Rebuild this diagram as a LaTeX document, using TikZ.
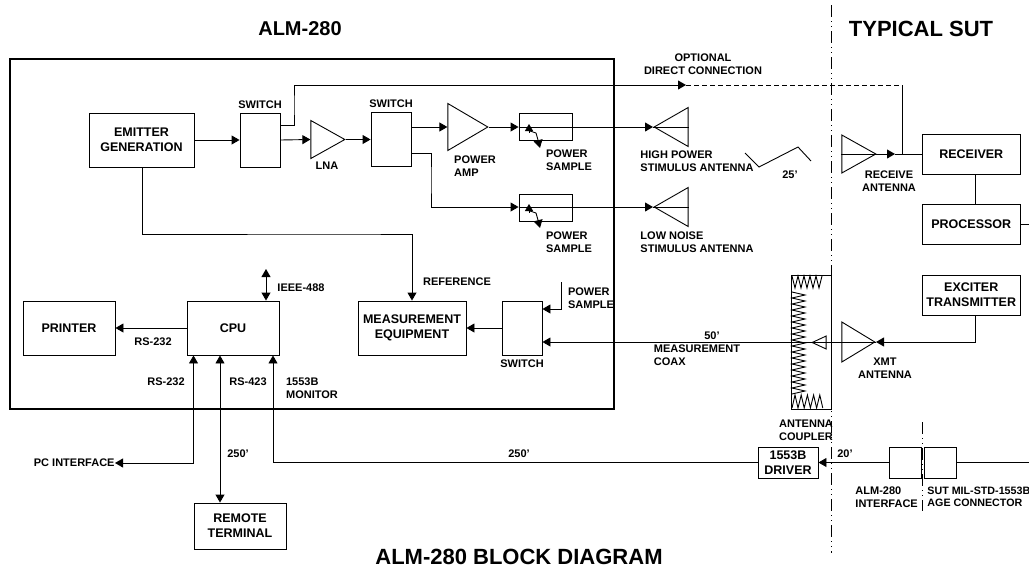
\documentclass[tikz,border=0pt]{standalone}
\usepackage{fontspec}
\setmainfont{Liberation Sans}
\usepackage{tikz}
\usetikzlibrary{positioning,arrows.meta,shapes.geometric}

\begin{document}
\begin{tikzpicture}[
    x=1pt,
    y=-1pt,
    line width=0.9pt,
    >={Triangle[length=8pt,width=9pt]},
    block/.style = {
      shape=rectangle,
      draw,
      inner sep=0pt,
      align=center,
      font=\fontsize{12.5}{15}\selectfont\bfseries
    },
    tag/.style = {
      inner sep=0pt,
      align=left,
      font=\fontsize{11}{12.6}\selectfont\bfseries
    },
    ctag/.style = {tag, align=center},
    headline/.style = {
      inner sep=0pt,
      font=\fontsize{22}{24}\selectfont\bfseries
    },
    wedge/.style = {
      shape=isosceles triangle,
      isosceles triangle stretches,
      draw,
      inner sep=0pt,
      anchor=apex
    },
    wedgeleft/.style = {wedge, shape border rotate=180},
    boundary/.style = {
      line width=0.8pt,
      dash pattern=on 12pt off 4pt on 1pt off 4pt on 1pt off 4pt
    }
  ]
    \useasboundingbox (0,0) rectangle (1029,568);

    % Headings
    \node[headline, font=\fontsize{20}{24}\selectfont\bfseries] (almhead) at (300,29) {ALM-280};
    \node[headline] (suthead) at (921,29) {TYPICAL SUT};
    \node[headline] (caption) at (519,557) {ALM-280 BLOCK DIAGRAM};

    % Boundaries
    \draw[line width=2pt] (10,59) rectangle (614,408.5);
    \coordinate (bndtop) at (831,5);
    \coordinate (bndbot) at (831,553);
    \draw[boundary] (bndtop) -- (bndbot);
    \coordinate (ifctop) at (922,422);
    \coordinate (ifcbot) at (922,511);
    \draw[boundary] (ifctop) -- (ifcbot);

    % Stimulus chain
    \node[block, minimum width=105pt, minimum height=54pt] (emitter) at (141.5,140) {EMITTER\\GENERATION};
    \node[block, minimum width=40pt, minimum height=54pt] (switcha) at (260,140) {};
    \node[wedge, minimum height=34pt, minimum width=38pt] (lna) at (346,139.5) {};
    \node[block, minimum width=40pt, minimum height=54pt] (switchb) at (391,139) {};
    \node[wedge, minimum height=40pt, minimum width=47pt] (amp) at (489,127) {};
    \node[block, minimum width=53pt, minimum height=27pt] (samplehi) at (545.5,126.5) {};
    \node[block, minimum width=53pt, minimum height=27pt] (samplelo) at (545.5,207.5) {};
    \node[wedgeleft, minimum height=34pt, minimum width=39pt] (anthi) at (653,127) {};
    \node[wedgeleft, minimum height=34pt, minimum width=39pt] (antlo) at (653,207) {};

    \node[ctag, above=3pt of switcha] (switchatag) {SWITCH};
    \node[ctag, above=3pt of switchb] (switchbtag) {SWITCH};
    \node[ctag] (lnatag) at (327,166) {LNA};
    \node[tag] (amptag) at (475,166) {POWER\\AMP};
    \node[tag] (samplehitag) at (569,160) {POWER\\SAMPLE};
    \node[tag] (samplelotag) at (569,242) {POWER\\SAMPLE};
    \node[tag] (anthitag) at (697,161) {HIGH POWER\\STIMULUS ANTENNA};
    \node[tag] (antlotag) at (697,242) {LOW NOISE\\STIMULUS ANTENNA};
    \node[ctag] (directtag) at (703,64) {OPTIONAL\\DIRECT CONNECTION};

    \draw[->] (emitter.east) -- (switcha.west);
    \draw[->] (switcha.east) -- (lna.lower side);
    \draw[->] (lna.apex) -- (switchb.west |- lna.apex);
    \draw[->] (switchb.east |- amp.apex) -- (amp.lower side);
    \draw[->] (amp.apex) -- (samplehi.west |- amp.apex);
    \draw[->] (samplehi.west |- amp.apex) -- (anthi.apex);
    \draw (anthi.apex) -- (anthi.lower side);
    \draw[->] (switchb.east |- 0,153.5) -| (431,180) |- (samplelo.west |- antlo.apex);
    \draw[->] (samplelo.west |- antlo.apex) -- (antlo.apex);
    \draw (antlo.apex) -- (antlo.lower side);

    % Sampled outputs
    \foreach \sample/\ya in {samplehi/0,samplelo/80} {
      \draw[->, >={Triangle[length=7pt,width=8pt]}] (529,133+\ya) -- (529,124+\ya);
      \draw[->] (527,130+\ya) -- (536,133+\ya) -- (538,140+\ya) -- (540,148+\ya);
    }

    % Direct connection and SUT receive side
    \node[block, minimum width=98.5pt, minimum height=40pt] (receiver) at (971.25,154) {RECEIVER};
    \node[block, minimum width=98.5pt, minimum height=40.5pt] (processor) at (971.25,224.5) {PROCESSOR};
    \node[block, minimum width=98.5pt, minimum height=40pt] (exciter) at (971.25,295) {EXCITER\\TRANSMITTER};
    \node[wedge, minimum height=34pt, minimum width=38pt] (antrx) at (877,154) {};
    \node[wedge, minimum height=33pt, minimum width=40pt] (anttx) at (876,342) {};
    \node[ctag] (antrxtag) at (889,181) {RECEIVE\\ANTENNA};
    \node[ctag] (anttxtag) at (885,368) {XMT\\ANTENNA};
    \coordinate (directend) at (686,85);
    \coordinate (directcorner) at (902.5,85);
    \coordinate (procout) at (1029,224.5);

    \draw[->] (switcha.east |- 0,125.5) -| (294,105) |- (directend);
    \draw[dashed, dash pattern=on 5pt off 3pt] (directend) -- (directcorner);
    \draw (directcorner) -- (directcorner |- antrx.apex);
    \draw[->] (antrx.apex) -- (895,154);
    \draw (895,154) -- (receiver.west);
    \draw (antrx.apex) -- (antrx.lower side);
    \draw (receiver.south -| 975,0) -- (processor.north -| 975,0);
    \draw (processor.east) -- (procout);

    % Break in the cable
    \draw (745,153) -- (759,167) -- (798,147) -- (811,161);
    \node[ctag] (breaktag) at (790,175) {25'};

    % Measurement path
    \node[block, minimum width=108pt, minimum height=54pt] (measure) at (412,328) {MEASUREMENT\\EQUIPMENT};
    \node[block, minimum width=40pt, minimum height=54pt] (switchc) at (522,328) {};
    \coordinate (powerin) at (561,282);
    \node[ctag, below=4pt of switchc] (switchctag) {SWITCH};
    \node[tag] (reftag) at (457,282) {REFERENCE};
    \node[tag] (powertag) at (591,298.5) {POWER\\SAMPLE};
    \node[tag] (coaxtag) at (697,355.5) {MEASUREMENT\\COAX};
    \node[ctag] (coaxlen) at (712,336) {50'};
    \node[ctag] (couplertag) at (806,430) {ANTENNA\\COUPLER};

    \draw[->] (emitter.south -| 142,0) |- (350,234) -| (measure.north);
    \draw[->] (switchc.west) -- (measure.east);
    \draw[->] (powerin) |- (switchc.east |- 0,309);
    \draw[->] (anttx.lower side) -- (switchc.east |- anttx.apex);
    \draw (anttx.apex) -- (anttx.lower side);
    \draw[->] (exciter.south -| 975,0) |- (anttx.apex);

    % Antenna coupler
    \node[draw, minimum width=40pt, minimum height=134pt, inner sep=0pt] (coupler) at (811,342) {};
    \node[wedgeleft, minimum height=14pt, minimum width=13pt] (couplertip) at (811,342.5) {};
    \draw (792,276) \foreach \i in {0,...,4} { -- (795+6*\i,288) -- (798+6*\i,276) };
    \draw (792,292) \foreach \i in {0,...,16} { -- (805,295+6*\i) -- (792,298+6*\i) };
    \draw (792,408) \foreach \i in {0,...,4} { -- (795+6.2*\i,395) -- (798+6.2*\i,408) };

    % Control side
    \node[block, minimum width=92pt, minimum height=54pt] (printer) at (69,328) {PRINTER};
    \node[block, minimum width=92pt, minimum height=54pt] (cpu) at (233,328) {CPU};
    \node[block, minimum width=92pt, minimum height=46pt] (remote) at (240,526) {REMOTE\\TERMINAL};
    \coordinate (ieeetop) at (266,269);
    \node[tag] (ieeetag) at (301,288) {IEEE-488};
    \node[tag] (printtag) at (153,342) {RS-232};
    \node[tag] (pctag) at (166,382) {RS-232};
    \node[tag] (remotetag) at (248,382) {RS-423};
    \node[tag] (monitortag) at (312,388.5) {1553B\\MONITOR};
    \node[tag, anchor=east] (pcend) at (115,463) {PC INTERFACE};
    \node[ctag] (remotelen) at (238,454) {250'};
    \node[ctag] (driverlen) at (519,454) {250'};

    \draw[->] (cpu.west) -- (printer.east);
    \draw[<->] (ieeetop) -- (ieeetop |- cpu.north);
    \draw[<->] (pcend.east) -| (cpu.south -| 193.5,0);
    \draw[<->] (cpu.south -| 220,0) -- (remote.north -| 220,0);

    % Bus side
    \node[block, minimum width=60pt, minimum height=31pt] (driver) at (788,462.5) {1553B\\DRIVER};
    \node[block, minimum width=32pt, minimum height=31pt] (almport) at (905,462.5) {};
    \node[block, minimum width=32pt, minimum height=31pt] (sutport) at (940,462.5) {};
    \coordinate (busend) at (1029,462.5);
    \node[ctag] (buslen) at (845,454) {20'};
    \node[tag, anchor=west] (almporttag) at (855,497) {ALM-280\\INTERFACE};
    \node[tag, anchor=west, font=\fontsize{10.7}{12.6}\selectfont\bfseries] (sutporttag) at (927,497) {SUT MIL-STD-1553B\\AGE CONNECTOR};

    \draw[->] (driver.west) -| (cpu.south -| 273,0);
    \draw[->] (almport.west) -- (driver.east);
    \draw (sutport.east) -- (busend);
  \end{tikzpicture}
\end{document}
